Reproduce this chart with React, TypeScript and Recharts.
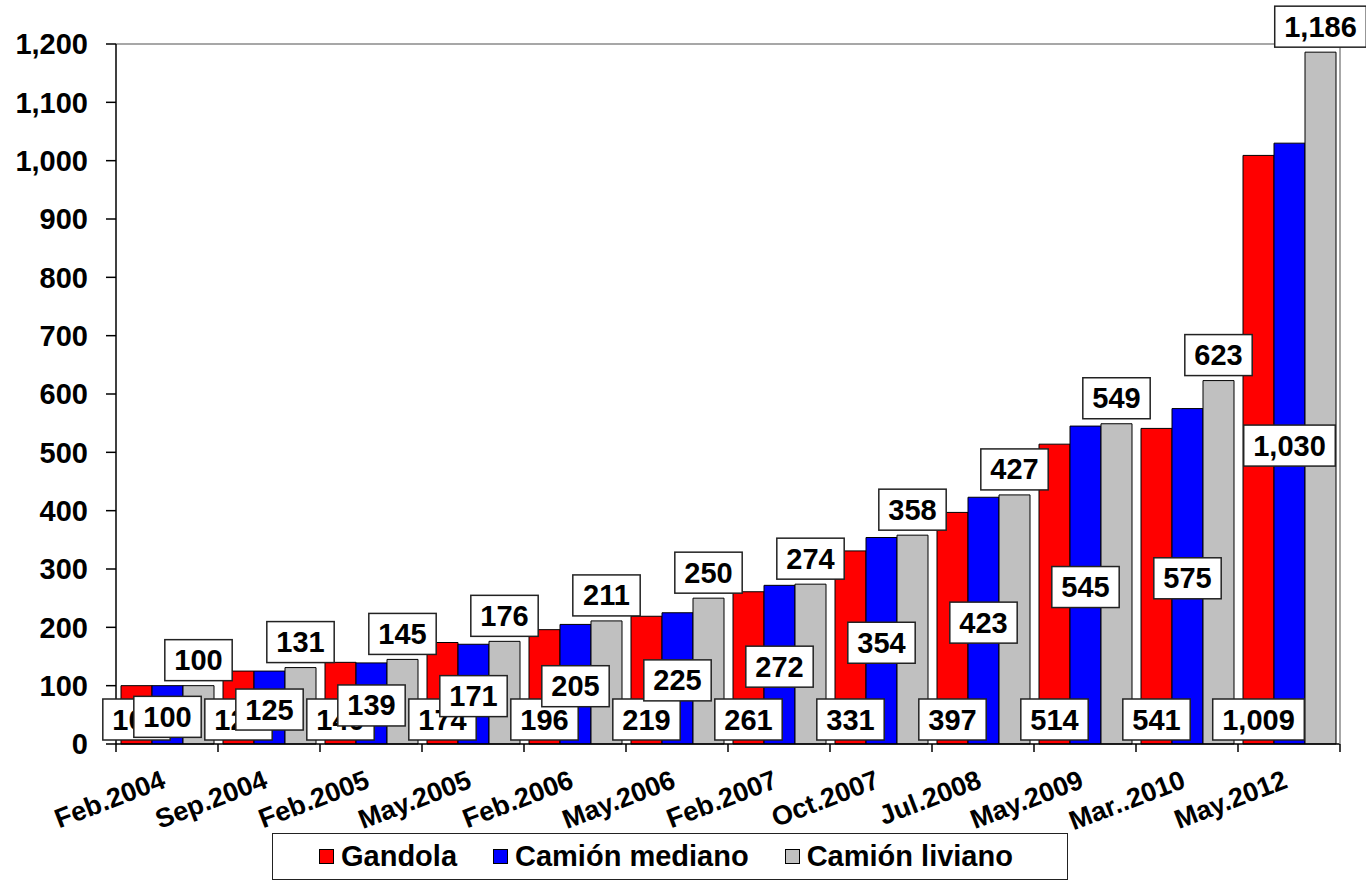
import { BarChart, Bar, XAxis, YAxis, Legend, LabelList, ReferenceLine } from 'recharts';

const categories = [
  'Feb.2004', 'Sep.2004', 'Feb.2005', 'May.2005', 'Feb.2006', 'May.2006',
  'Feb.2007', 'Oct.2007', 'Jul.2008', 'May.2009', 'Mar..2010', 'May.2012',
];
const gandola = [100, 125, 140, 174, 196, 219, 261, 331, 397, 514, 541, 1009];
const camionMediano = [100, 125, 139, 171, 205, 225, 272, 354, 423, 545, 575, 1030];
const camionLiviano = [100, 131, 145, 176, 211, 250, 274, 358, 427, 549, 623, 1186];
const yTicks = [0, 100, 200, 300, 400, 500, 600, 700, 800, 900, 1000, 1100, 1200];

const series = [
  { key: 'gandola', name: 'Gandola', color: '#FF0000' },
  { key: 'mediano', name: 'Camión mediano', color: '#0000FF' },
  { key: 'liviano', name: 'Camión liviano', color: '#C0C0C0' },
];

const data = categories.map((name, i) => ({
  name,
  gandola: gandola[i],
  mediano: camionMediano[i],
  liviano: camionLiviano[i],
}));

const FONT = '"Liberation Sans", Arial, sans-serif';
const LABEL_FS = 29;

const fmt = (v: number) => v.toLocaleString('en-US');

// rough Arial-bold width for digit strings
const textWidth = (s: string, fs: number) =>
  s.split('').reduce((w, c) => w + (c === ',' ? 0.278 : 0.556) * fs, 0);

function LabelBox({ cx, cy, value }: { cx: number; cy: number; value: number }) {
  const s = fmt(value);
  const w = textWidth(s, LABEL_FS) + 19;
  const h = 41;
  return (
    <g>
      <rect x={cx - w / 2} y={cy - h / 2} width={w} height={h} fill="#fff" stroke="#222" strokeWidth={1.5} />
      <text x={cx} y={cy + 10} textAnchor="middle" fontFamily={FONT} fontWeight={700} fontSize={LABEL_FS} fill="#000">
        {s}
      </text>
    </g>
  );
}

const boxOf = (p: any) => {
  const vb = p.viewBox ?? {};
  return {
    x: Number(p.x ?? vb.x),
    y: Number(p.y ?? vb.y),
    width: Number(p.width ?? vb.width),
    height: Number(p.height ?? vb.height),
  };
};

// Gandola: sits at the foot of the bar
const bottomLabel = (p: any) => {
  const b = boxOf(p);
  return <LabelBox cx={b.x + b.width / 2} cy={b.y + b.height - 4 - 20.5} value={p.value} />;
};
// Camión mediano: middle of the bar
const midLabel = (p: any) => {
  const b = boxOf(p);
  return <LabelBox cx={b.x + b.width / 2} cy={b.y + b.height / 2 + 2} value={p.value} />;
};
// Camión liviano: above the bar
const topLabel = (p: any) => {
  const b = boxOf(p);
  return <LabelBox cx={b.x + b.width / 2} cy={b.y - 5 - 20.5} value={p.value} />;
};

function XTick(props: any) {
  const { x, y, payload, index } = props;
  const off = payload.offset ?? 0;
  return (
    <g>
      <line x1={x - off} y1={y} x2={x - off} y2={y + 8} stroke="#000" strokeWidth={1.5} />
      {index === categories.length - 1 && (
        <line x1={x + off} y1={y} x2={x + off} y2={y + 8} stroke="#000" strokeWidth={1.5} />
      )}
      <g transform={`translate(${x},${y + 43})`}>
        <text
          x={0}
          y={0}
          textAnchor="end"
          transform="rotate(-21)"
          fontFamily={FONT}
          fontWeight={700}
          fontSize={27}
          fill="#000"
        >
          {payload.value}
        </text>
      </g>
    </g>
  );
}

function LegendContent() {
  return (
    <div
      style={{
        boxSizing: 'border-box',
        height: 47,
        border: '1.5px solid #222',
        display: 'flex',
        alignItems: 'center',
        paddingLeft: 46,
        fontFamily: FONT,
        fontWeight: 700,
        fontSize: 29,
        color: '#000',
        background: '#fff',
      }}
    >
      {series.map((s) => (
        <div key={s.key} style={{ display: 'flex', alignItems: 'center', marginRight: 36 }}>
          <span
            style={{
              display: 'inline-block',
              width: 13,
              height: 13,
              background: s.color,
              border: '1px solid #000',
              marginRight: 7,
            }}
          />
          <span style={{ lineHeight: '1' }}>{s.name}</span>
        </div>
      ))}
    </div>
  );
}

export default function App() {
  return (
    <div style={{ position: 'absolute', left: 0, top: 0, width: 1366, height: 890, background: '#fff' }}>
      <BarChart
        width={1366}
        height={890}
        data={data}
        margin={{ top: 44, right: 25, left: 16, bottom: 10 }}
        barCategoryGap={5}
        barGap={0}
      >
        <XAxis
          dataKey="name"
          height={89}
          interval={0}
          tickSize={0}
          tickMargin={0}
          tickLine={false}
          axisLine={{ stroke: '#000', strokeWidth: 1.5 }}
          tick={<XTick />}
        />
        <YAxis
          yAxisId="left"
          width={100}
          domain={[0, 1200]}
          ticks={yTicks}
          interval={0}
          tickFormatter={fmt}
          tickSize={10}
          tickMargin={18}
          axisLine={{ stroke: '#000', strokeWidth: 1.5 }}
          tickLine={{ stroke: '#000', strokeWidth: 1.5 }}
          tick={{ fontSize: 29, fontWeight: 700, fill: '#000', fontFamily: FONT }}
        />
        <YAxis
          yAxisId="right"
          orientation="right"
          width={1}
          domain={[0, 1200]}
          tick={false}
          tickLine={false}
          axisLine={{ stroke: '#8a8a8a', strokeWidth: 1.5 }}
        />
        <ReferenceLine yAxisId="left" y={1200} stroke="#8a8a8a" strokeWidth={1.5} />
        <Legend
          verticalAlign="bottom"
          content={<LegendContent />}
          wrapperStyle={{ left: 272, bottom: 10, width: 796, height: 47 }}
        />
        <Bar yAxisId="left" dataKey="gandola" name="Gandola" fill="#FF0000" stroke="#000" strokeWidth={1} isAnimationActive={false}>
          <LabelList dataKey="gandola" content={bottomLabel} />
        </Bar>
        <Bar yAxisId="left" dataKey="mediano" name="Camión mediano" fill="#0000FF" stroke="#000" strokeWidth={1} isAnimationActive={false}>
          <LabelList dataKey="mediano" content={midLabel} />
        </Bar>
        <Bar yAxisId="left" dataKey="liviano" name="Camión liviano" fill="#C0C0C0" stroke="#000" strokeWidth={1} isAnimationActive={false}>
          <LabelList dataKey="liviano" content={topLabel} />
        </Bar>
      </BarChart>
    </div>
  );
}
